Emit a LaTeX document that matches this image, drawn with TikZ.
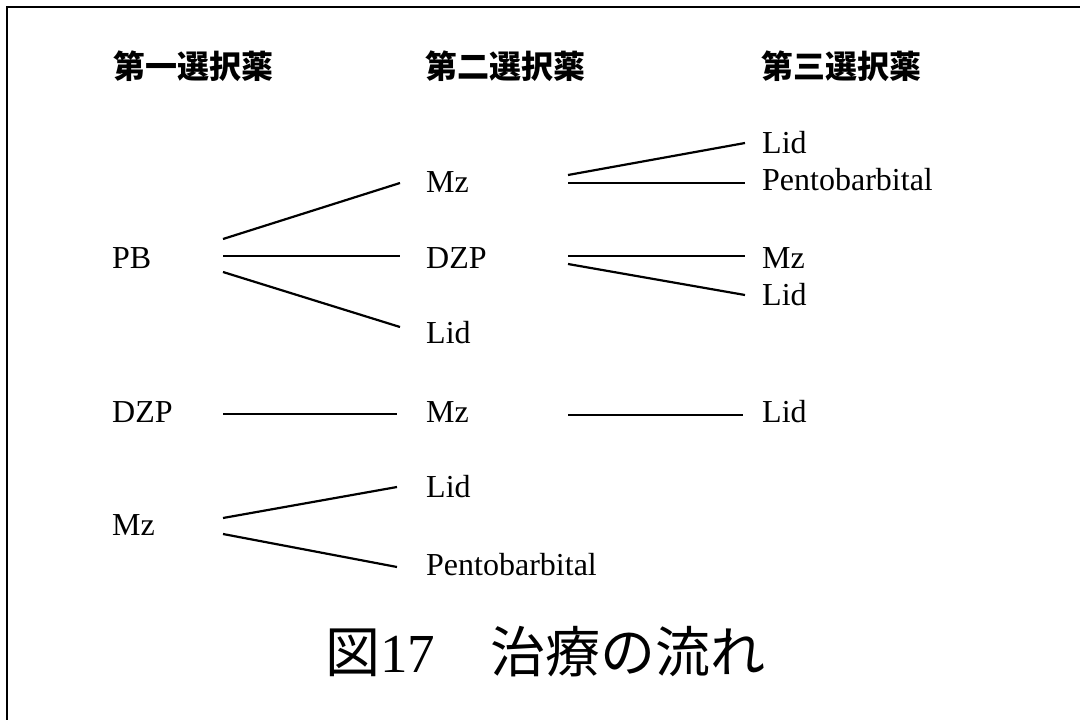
\documentclass[tikz,border=0pt]{standalone}
\usepackage{fontspec}
\setmainfont{Liberation Serif}
\newfontfamily\jp{Noto Sans CJK JP}
\usetikzlibrary{calc}
\begin{document}
\begin{tikzpicture}[x=1pt,y=-1pt,
  drug/.style={anchor=base west, inner sep=0pt, font=\fontsize{32}{32}\selectfont},
  head/.style={anchor=base west, inner sep=0pt, font=\jp\bfseries\fontsize{32}{32}\selectfont},
  captiontext/.style={anchor=base west, inner sep=0pt, font=\fontsize{55}{55}\selectfont},
  link/.style={line width=2.2pt},
  frame/.style={line width=2.6pt}]
\useasboundingbox (0,0) rectangle (1080,720);
% frame (top and left only)
\draw[frame] (7,722) -- (7,7) -- (1082,7);
% column headings
\node[head] (h1) at (113,78) {第一選択薬};
\node[head] (h2) at (425,78) {第二選択薬};
\node[head] (h3) at (761,78) {第三選択薬};
% first choice
\node[drug] (a1) at (112,268) {PB};
\node[drug] (a2) at (112,422) {DZP};
\node[drug] (a3) at (112,535) {Mz};
% second choice
\node[drug] (b1) at (426,192) {Mz};
\node[drug] (b2) at (426,268) {DZP};
\node[drug] (b3) at (426,343) {Lid};
\node[drug] (b4) at (426,422) {Mz};
\node[drug] (b5) at (426,497) {Lid};
\node[drug] (b6) at (426,575) {Pentobarbital};
% third choice
\node[drug] (c1) at (762,153) {Lid};
\node[drug] (c2) at (762,190) {Pentobarbital};
\node[drug] (c3) at (762,268) {Mz};
\node[drug] (c4) at (762,305) {Lid};
\node[drug] (c5) at (762,422) {Lid};
% connectors first -> second
\draw[link] ($(a1.base west)+(111,-29)$) -- ($(b1.base west)+(-26,-9)$);
\draw[link] ($(a1.base west)+(111,-12)$) -- ($(b2.base west)+(-26,-12)$);
\draw[link] ($(a1.base west)+(111,4)$) -- ($(b3.base west)+(-26,-16)$);
\draw[link] ($(a2.base west)+(111,-8)$) -- ($(b4.base west)+(-29,-8)$);
\draw[link] ($(a3.base west)+(111,-17)$) -- ($(b5.base west)+(-29,-10)$);
\draw[link] ($(a3.base west)+(111,-1)$) -- ($(b6.base west)+(-29,-8)$);
% connectors second -> third
\draw[link] ($(b1.base west)+(142,-17)$) -- ($(c1.base west)+(-17,-10)$);
\draw[link] ($(b1.base west)+(142,-9)$) -- ($(c2.base west)+(-17,-7)$);
\draw[link] ($(b2.base west)+(142,-12)$) -- ($(c3.base west)+(-17,-12)$);
\draw[link] ($(b2.base west)+(142,-4)$) -- ($(c4.base west)+(-17,-10)$);
\draw[link] ($(b4.base west)+(142,-7)$) -- ($(c5.base west)+(-19,-7)$);
% caption
\node[captiontext] (title) at (325,672) {{\jp 図}17{\jp 　治療の流れ}};
\end{tikzpicture}
\end{document}
